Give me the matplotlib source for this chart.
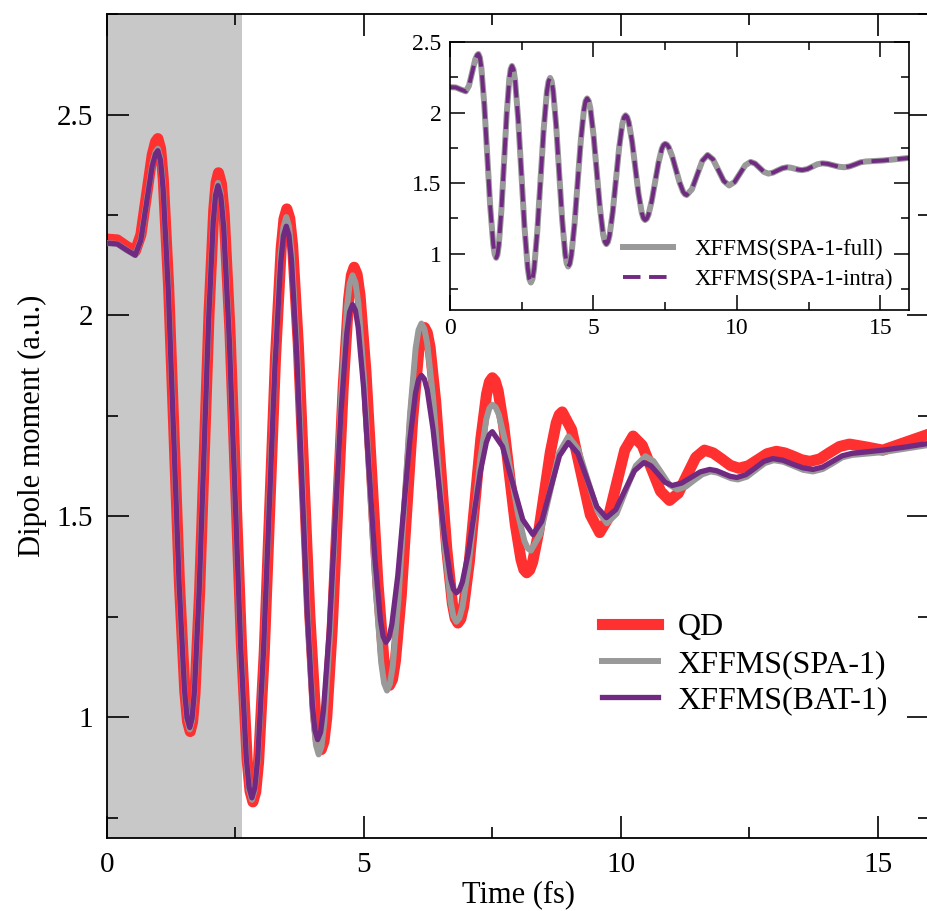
import matplotlib
matplotlib.use("Agg")
import matplotlib.pyplot as plt
from matplotlib.ticker import MultipleLocator, FuncFormatter

# dipole moment vs time
qd_t = [0.00, 0.20, 0.38, 0.55, 0.66, 0.77, 0.88, 0.945, 0.99,
        1.043, 1.095, 1.20, 1.305, 1.41, 1.515, 1.568, 1.62,
        1.666, 1.712, 1.803, 1.895, 1.987, 2.078, 2.124, 2.17,
        2.226, 2.282, 2.393, 2.505, 2.617, 2.728, 2.784, 2.84,
        2.895, 2.95, 3.06, 3.17, 3.28, 3.39, 3.445, 3.50,
        3.556, 3.612, 3.723, 3.835, 3.947, 4.058, 4.114, 4.17,
        4.223, 4.277, 4.383, 4.49, 4.597, 4.703, 4.757, 4.81,
        4.868, 4.925, 5.04, 5.155, 5.27, 5.385, 5.443, 5.50,
        5.557, 5.613, 5.727, 5.84, 5.953, 6.067, 6.123, 6.18,
        6.234, 6.288, 6.397, 6.505, 6.613, 6.722, 6.776, 6.83,
        6.886, 6.942, 7.053, 7.165, 7.277, 7.388, 7.444, 7.50,
        7.556, 7.612, 7.723, 7.835, 7.947, 8.058, 8.114, 8.17,
        8.228, 8.285, 8.40, 8.515, 8.63, 8.745, 8.803, 8.86,
        9.043, 9.225, 9.408, 9.59,
        9.753, 9.915, 10.078, 10.24,
        10.418, 10.595, 10.773, 10.95,
        11.12, 11.29, 11.46, 11.63,
        11.798, 11.965, 12.133, 12.30,
        12.483, 12.665, 12.848, 13.03,
        13.193, 13.355, 13.518, 13.68,
        13.873, 14.065, 14.258, 14.45,
        14.775, 15.10, 15.55, 16.00]
qd_y = [2.190, 2.188, 2.172, 2.160, 2.201, 2.300, 2.399, 2.432, 2.440,
        2.415, 2.341, 2.071, 1.703, 1.334, 1.064, 0.990, 0.965,
        0.989, 1.058, 1.313, 1.660, 2.008, 2.262, 2.331, 2.355,
        2.328, 2.250, 1.964, 1.573, 1.181, 0.895, 0.817, 0.790,
        0.815, 0.889, 1.159, 1.528, 1.896, 2.166, 2.240, 2.265,
        2.242, 2.175, 1.929, 1.593, 1.256, 1.010, 0.943, 0.920,
        0.940, 1.000, 1.220, 1.520, 1.820, 2.040, 2.100, 2.120,
        2.102, 2.050, 1.860, 1.600, 1.340, 1.150, 1.098, 1.080,
        1.095, 1.140, 1.303, 1.525, 1.748, 1.910, 1.955, 1.970,
        1.957, 1.921, 1.786, 1.603, 1.419, 1.284, 1.247, 1.235,
        1.245, 1.276, 1.388, 1.540, 1.693, 1.804, 1.835, 1.845,
        1.837, 1.813, 1.724, 1.603, 1.481, 1.393, 1.368, 1.360,
        1.367, 1.387, 1.460, 1.560, 1.660, 1.733, 1.753, 1.760,
        1.716, 1.610, 1.504, 1.460,
        1.495, 1.580, 1.665, 1.700,
        1.677, 1.620, 1.563, 1.540,
        1.558, 1.603, 1.647, 1.665,
        1.658, 1.643, 1.627, 1.620,
        1.626, 1.641, 1.656, 1.662,
        1.658, 1.650, 1.641, 1.637,
        1.643, 1.659, 1.674, 1.680,
        1.673, 1.665, 1.685, 1.705]

spa_t = [0.00, 0.20, 0.38, 0.55, 0.66, 0.77, 0.88, 0.945, 0.99,
         1.042, 1.093, 1.197, 1.30, 1.403, 1.507, 1.558, 1.61,
         1.656, 1.702, 1.793, 1.885, 1.977, 2.068, 2.114, 2.16,
         2.215, 2.27, 2.38, 2.49, 2.60, 2.71, 2.765, 2.82,
         2.876, 2.932, 3.043, 3.155, 3.267, 3.378, 3.434, 3.49,
         3.543, 3.595, 3.70, 3.805, 3.91, 4.015, 4.068, 4.12,
         4.175, 4.23, 4.34, 4.45, 4.56, 4.67, 4.725, 4.78,
         4.836, 4.892, 5.003, 5.115, 5.227, 5.338, 5.394, 5.45,
         5.506, 5.562, 5.673, 5.785, 5.897, 6.008, 6.064, 6.12,
         6.177, 6.233, 6.347, 6.46, 6.573, 6.687, 6.743, 6.80,
         6.858, 6.917, 7.033, 7.15, 7.267, 7.383, 7.442, 7.50,
         7.563, 7.625, 7.75, 7.875, 8.00, 8.125, 8.188, 8.25,
         8.433, 8.615, 8.798, 8.98,
         9.168, 9.355, 9.543, 9.73,
         9.918, 10.105, 10.293, 10.48,
         10.635, 10.79, 10.945, 11.10,
         11.263, 11.425, 11.588, 11.75,
         11.883, 12.015, 12.148, 12.28,
         12.455, 12.63, 12.805, 12.98,
         13.17, 13.36, 13.55, 13.74,
         13.93, 14.12, 14.31, 14.50,
         15.10, 15.50, 16.00]
spa_y = [2.180, 2.178, 2.163, 2.150, 2.189, 2.283, 2.376, 2.407, 2.415,
         2.390, 2.318, 2.054, 1.693, 1.331, 1.067, 0.995, 0.970,
         0.993, 1.061, 1.310, 1.650, 1.990, 2.239, 2.307, 2.330,
         2.304, 2.227, 1.946, 1.563, 1.179, 0.898, 0.821, 0.795,
         0.820, 0.892, 1.158, 1.520, 1.883, 2.148, 2.220, 2.245,
         2.222, 2.155, 1.911, 1.577, 1.242, 0.998, 0.931, 0.908,
         0.928, 0.988, 1.206, 1.504, 1.802, 2.020, 2.080, 2.100,
         2.082, 2.031, 1.842, 1.584, 1.325, 1.136, 1.085, 1.067,
         1.083, 1.128, 1.295, 1.524, 1.752, 1.919, 1.964, 1.980,
         1.967, 1.930, 1.795, 1.609, 1.424, 1.288, 1.251, 1.238,
         1.247, 1.274, 1.373, 1.508, 1.643, 1.742, 1.769, 1.778,
         1.772, 1.754, 1.687, 1.597, 1.506, 1.439, 1.421, 1.415,
         1.456, 1.557, 1.658, 1.699,
         1.668, 1.591, 1.515, 1.483,
         1.507, 1.567, 1.626, 1.650,
         1.638, 1.609, 1.579, 1.567,
         1.574, 1.590, 1.605, 1.612,
         1.609, 1.602, 1.595, 1.592,
         1.599, 1.616, 1.633, 1.640,
         1.636, 1.626, 1.616, 1.612,
         1.618, 1.632, 1.647, 1.653,
         1.660, 1.668, 1.678]

bat_t = [0.00, 0.20, 0.38, 0.55, 0.66, 0.77, 0.88, 0.945, 0.99,
         1.042, 1.093, 1.197, 1.30, 1.403, 1.507, 1.558, 1.61,
         1.656, 1.702, 1.793, 1.885, 1.977, 2.068, 2.114, 2.16,
         2.215, 2.27, 2.38, 2.49, 2.60, 2.71, 2.765, 2.82,
         2.876, 2.932, 3.043, 3.155, 3.267, 3.378, 3.434, 3.49,
         3.541, 3.592, 3.693, 3.795, 3.897, 3.998, 4.049, 4.10,
         4.157, 4.213, 4.327, 4.44, 4.553, 4.667, 4.723, 4.78,
         4.834, 4.888, 4.997, 5.105, 5.213, 5.322, 5.376, 5.43,
         5.488, 5.545, 5.66, 5.775, 5.89, 6.005, 6.063, 6.12,
         6.177, 6.233, 6.347, 6.46, 6.573, 6.687, 6.743, 6.80,
         6.858, 6.917, 7.033, 7.15, 7.267, 7.383, 7.442, 7.50,
         7.698, 7.895, 8.093, 8.29,
         8.463, 8.635, 8.808, 8.98,
         9.165, 9.35, 9.535, 9.72,
         9.903, 10.085, 10.268, 10.45,
         10.588, 10.725, 10.863, 11.00,
         11.183, 11.365, 11.548, 11.73,
         11.863, 11.995, 12.128, 12.26,
         12.435, 12.61, 12.785, 12.96,
         13.155, 13.35, 13.545, 13.74,
         13.93, 14.12, 14.31, 14.50,
         15.10, 15.50, 16.00]
bat_y = [2.180, 2.178, 2.163, 2.150, 2.188, 2.280, 2.372, 2.402, 2.410,
         2.386, 2.314, 2.051, 1.693, 1.334, 1.071, 0.999, 0.975,
         0.998, 1.065, 1.312, 1.649, 1.986, 2.233, 2.300, 2.323,
         2.297, 2.221, 1.942, 1.562, 1.181, 0.902, 0.826, 0.800,
         0.824, 0.895, 1.156, 1.511, 1.867, 2.127, 2.198, 2.222,
         2.200, 2.136, 1.903, 1.584, 1.264, 1.031, 0.967, 0.945,
         0.963, 1.018, 1.216, 1.486, 1.757, 1.955, 2.009, 2.027,
         2.013, 1.971, 1.817, 1.607, 1.397, 1.243, 1.201, 1.187,
         1.198, 1.232, 1.353, 1.519, 1.685, 1.807, 1.840, 1.851,
         1.842, 1.815, 1.716, 1.581, 1.445, 1.346, 1.319, 1.310,
         1.317, 1.337, 1.410, 1.511, 1.611, 1.684, 1.704, 1.711,
         1.674, 1.583, 1.492, 1.455,
         1.488, 1.570, 1.651, 1.684,
         1.657, 1.591, 1.524, 1.497,
         1.517, 1.566, 1.614, 1.634,
         1.626, 1.606, 1.585, 1.577,
         1.583, 1.597, 1.611, 1.617,
         1.614, 1.607, 1.600, 1.597,
         1.604, 1.620, 1.637, 1.644,
         1.640, 1.630, 1.621, 1.617,
         1.623, 1.637, 1.651, 1.657,
         1.665, 1.672, 1.682]

# inset: full vs intra are indistinguishable in the picture
intra_t = spa_t
intra_y = spa_y

pulse_end = 2.63  # shaded region (fs)

RED = '#ff3030'
GRAY = '#999999'
PURPLE = '#712a82'

plt.rcParams['font.family'] = ['Liberation Serif', 'DejaVu Serif']

fig = plt.figure(figsize=(9.28, 9.11), dpi=100)

# main panel
ax = fig.add_axes([0.1153, 0.0801, 0.8858, 0.9045])
ax.axvspan(0, pulse_end, color='#c8c8c8', lw=0, zorder=0)
ax.plot(qd_t, qd_y, color=RED, lw=8, solid_joinstyle='round', label='QD', zorder=2)
ax.plot(spa_t, spa_y, color=GRAY, lw=4.3, solid_joinstyle='round', label='XFFMS(SPA-1)', zorder=3)
ax.plot(bat_t, bat_y, color=PURPLE, lw=3.8, solid_joinstyle='round', label='XFFMS(BAT-1)', zorder=4)

ax.set_xlim(0, 16)
ax.set_ylim(0.7, 2.75)
ax.xaxis.set_major_locator(MultipleLocator(5))
ax.xaxis.set_minor_locator(MultipleLocator(2.5))
ax.yaxis.set_major_locator(MultipleLocator(0.5))
ax.yaxis.set_minor_locator(MultipleLocator(0.25))
fmt = FuncFormatter(lambda v, p: '%g' % v)
ax.xaxis.set_major_formatter(fmt)
ax.yaxis.set_major_formatter(fmt)
ax.tick_params(which='both', direction='in', top=True, right=True, width=1.2, labelsize=21)
ax.tick_params(which='major', length=16, pad=10)
ax.tick_params(which='minor', length=8)
for s in ax.spines.values():
    s.set_linewidth(1.3)
ax.set_xlabel('Time (fs)', fontsize=22, labelpad=2)
ax.set_ylabel('Dipole moment (a.u.)', fontsize=22, labelpad=7)

ax.legend(loc='upper left', bbox_to_anchor=(0.649, 0.327), bbox_transform=fig.transFigure,
          frameon=False, fontsize=23, handlelength=1.75, handletextpad=0.6,
          labelspacing=0.22, borderpad=0, borderaxespad=0)

# inset
ins = fig.add_axes([0.4849, 0.6597, 0.4946, 0.2942])
ins.set_facecolor('white')
ins.plot(spa_t, spa_y, color=GRAY, lw=4.3, solid_joinstyle='round', label='XFFMS(SPA-1-full)')
ins.plot(intra_t, intra_y, color=PURPLE, lw=2.8, dashes=(4.5, 2.2), label='XFFMS(SPA-1-intra)')
ins.set_xlim(0, 16)
ins.set_ylim(0.6, 2.5)
ins.xaxis.set_major_locator(MultipleLocator(5))
ins.xaxis.set_minor_locator(MultipleLocator(2.5))
ins.yaxis.set_major_locator(MultipleLocator(0.5))
ins.yaxis.set_minor_locator(MultipleLocator(0.25))
ins.xaxis.set_major_formatter(fmt)
ins.yaxis.set_major_formatter(fmt)
ins.tick_params(which='both', direction='in', top=True, right=True, width=1.1, labelsize=17)
ins.tick_params(which='major', length=11, pad=6)
ins.tick_params(which='minor', length=6)
for s in ins.spines.values():
    s.set_linewidth(1.2)
ins.legend(loc='upper left', bbox_to_anchor=(0.671, 0.7377), bbox_transform=fig.transFigure,
           frameon=False, fontsize=16.5, handlelength=2.2, handletextpad=0.95,
           labelspacing=0.4, borderpad=0, borderaxespad=0)

fig.savefig('out.png', dpi=100)
